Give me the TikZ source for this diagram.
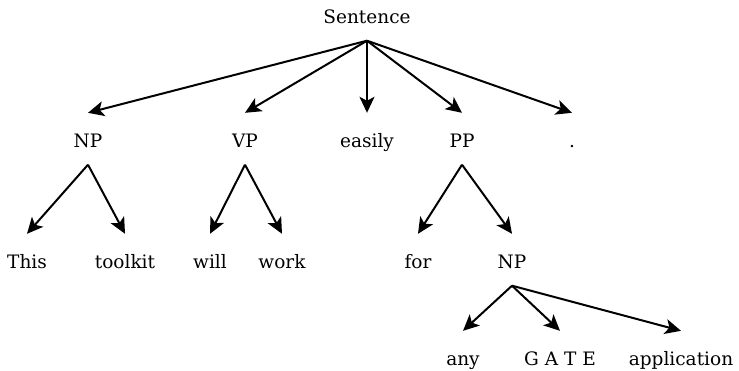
\documentclass[tikz,border=0pt]{standalone}
\usepackage{fontspec}
\setmainfont{DejaVu Serif}
\usetikzlibrary{arrows.meta}

\begin{document}
\begin{tikzpicture}[x=1pt,y=-1pt,
        word/.style={anchor=base,inner sep=0pt,text height=34pt,text depth=17.5pt,font=\fontsize{18.5}{22}\selectfont},
        edge/.style={-{Stealth[length=16pt,width=15pt,inset=4pt]},line width=2pt}]
        \useasboundingbox (0,0) rectangle (739,370);

        \node[word](s)at(367,23){Sentence};
        \node[word](np1)at(88,147){NP};
        \node[word](vp)at(245,147){VP};
        \node[word](adv)at(367,147){easily};
        \node[word](pp)at(462,147){PP};
        \node[word](dot)at(572,147){.};

        \node[word](this)at(27,268){This};
        \node[word](toolkit)at(125,268){toolkit};
        \node[word](will)at(210,268){will};
        \node[word](work)at(282,268){work};
        \node[word](for)at(418,268){for};
        \node[word](np2)at(512,268){NP};

        \node[word](any)at(463,365){any};
        \node[word](gate)at(560,365){G A T E};
        \node[word](app)at(681,365){application};

        \draw[edge](s.south)--(np1.north);
        \draw[edge](s.south)--(vp.north);
        \draw[edge](s.south)--(adv.north);
        \draw[edge](s.south)--(pp.north);
        \draw[edge](s.south)--(dot.north);

        \draw[edge](np1.south)--(this.north);
        \draw[edge](np1.south)--(toolkit.north);
        \draw[edge](vp.south)--(will.north);
        \draw[edge](vp.south)--(work.north);
        \draw[edge](pp.south)--(for.north);
        \draw[edge](pp.south)--(np2.north);

        \draw[edge](np2.south)--(any.north);
        \draw[edge](np2.south)--(gate.north);
        \draw[edge](np2.south)--(app.north);
    \end{tikzpicture}
\end{document}
